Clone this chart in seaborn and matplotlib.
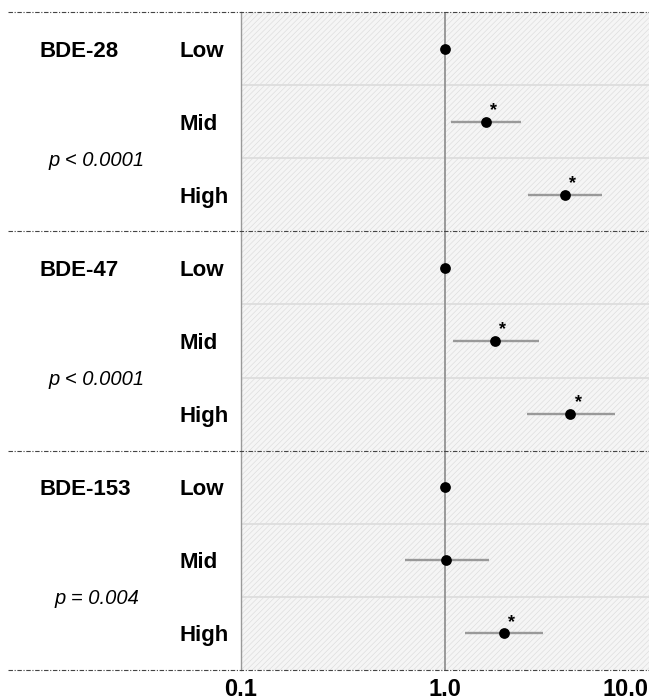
import numpy as np
import pandas as pd
import matplotlib.pyplot as plt
import matplotlib.transforms as mtransforms
from matplotlib.patches import Rectangle
from matplotlib.ticker import NullLocator
import seaborn as sns

# values (odds ratios with 95% CI)
groups = ['BDE-28', 'BDE-47', 'BDE-153']
levels = ['Low', 'Mid', 'High']
p_labels = ['p < 0.0001', 'p < 0.0001', 'p = 0.004']
odds = [1.0, 1.59, 3.86, 1.0, 1.76, 4.12, 1.0, 1.01, 1.94]
ci_low = [np.nan, 1.07, 2.56, np.nan, 1.10, 2.53, np.nan, 0.635, 1.25]
ci_high = [np.nan, 2.37, 5.88, np.nan, 2.89, 6.79, np.nan, 1.65, 3.02]
signif = [False, True, True, False, True, True, False, False, True]

df = pd.DataFrame({
    'group': np.repeat(groups, 3),
    'level': levels * 3,
    'odds': odds,
    'lo': ci_low,
    'hi': ci_high,
    'sig': signif,
})
df['row'] = np.arange(len(df))

sns.set_theme(style='white')
plt.rcParams['font.family'] = ['Liberation Sans', 'DejaVu Sans']
plt.rcParams['text.color'] = 'black'
plt.rcParams['xtick.color'] = 'black'
plt.rcParams['ytick.color'] = 'black'
plt.rcParams['hatch.color'] = '#dedede'
plt.rcParams['hatch.linewidth'] = 0.5

fig = plt.figure(figsize=(6.49, 7.0), dpi=100)
ax = fig.add_axes([241 / 649, 30 / 700, 408 / 649, 658 / 700])
ax.set_xscale('log')
ax.set_xlim(0.1, 10)
ax.set_ylim(8.5, -0.5)

# hatched grey background
ax.add_patch(Rectangle((0, 0), 1, 1, transform=ax.transAxes, facecolor='#f5f5f5',
                       edgecolor='#dedede', hatch='//////', lw=0, zorder=0))

# light lines inside each group
for y in [0.5, 1.5, 3.5, 4.5, 6.5, 7.5]:
    ax.axhline(y, color='#dddddd', lw=1.3, zorder=1)
# dash-dot separators running across the whole figure
for y in [-0.5, 2.5, 5.5, 8.5]:
    ax.axhline(y, xmin=-0.57, xmax=1, clip_on=False, color='#444444', lw=0.8,
               dashes=(4, 1.5, 1, 1.5), zorder=5)

ax.axvline(1, color='#999999', lw=1.4, zorder=2)

ci = df.dropna(subset=['lo', 'hi'])
ax.hlines(ci['row'], ci['lo'], ci['hi'], color='#999999', lw=1.7, zorder=3)
sns.scatterplot(data=df, x='odds', y='row', color='black', s=60, linewidth=0,
                zorder=4, ax=ax, legend=False)

for _, r in df[df['sig']].iterrows():
    ax.annotate('*', (r['odds'], r['row']), xytext=(3, 2), textcoords='offset points',
                fontsize=13, fontweight='bold', ha='left', va='bottom', zorder=6)

# row labels as y ticks, left aligned
ax.set_yticks(df['row'], df['level'], fontweight='bold', fontsize=16)
for lab in ax.get_yticklabels():
    lab.set_ha('left')
ax.tick_params(axis='y', length=0, pad=44.6)

ax.set_xticks([0.1, 1, 10], ['0.1', '1.0', '10.0'], fontweight='bold', fontsize=17)
ax.xaxis.set_minor_locator(NullLocator())
ax.get_xticklabels()[-1].set_ha('right')
ax.tick_params(axis='x', length=0, pad=6)
ax.set_xlabel('')
ax.set_ylabel('')

trans = mtransforms.blended_transform_factory(ax.transAxes, ax.transData)
for i, (g, p) in enumerate(zip(groups, p_labels)):
    ax.text(-0.495, i * 3, g, transform=trans, fontsize=16, fontweight='bold',
            ha='left', va='center_baseline')
    ax.text(-0.353, i * 3 + 1.5, p, transform=trans, fontsize=14.5, style='italic',
            ha='center', va='center_baseline')

for s in ['top', 'right', 'bottom']:
    ax.spines[s].set_visible(False)
ax.spines['left'].set_color('#999999')
ax.spines['left'].set_linewidth(1.0)

fig.savefig('out.png', dpi=100)
